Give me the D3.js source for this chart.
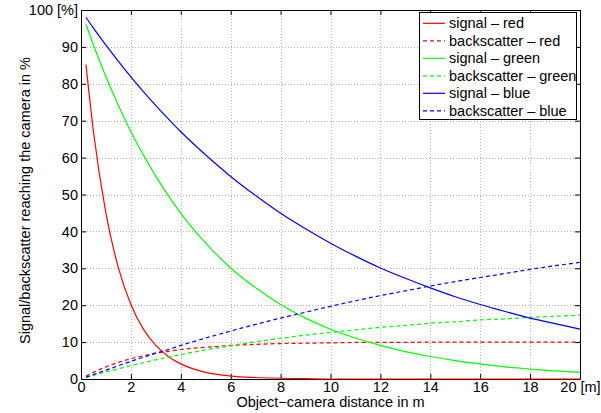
<!DOCTYPE html>
<html>
<head>
<meta charset="utf-8">
<script src="https://cdn.jsdelivr.net/npm/d3@7"></script>
<style>
  body { margin: 0; background: #fff; }
  svg { font-family: "Liberation Sans", Arial, sans-serif; }
</style>
</head>
<body>
<div id="chart"></div>
<script>
const distance = [0.2, 0.5, 1, 1.5, 2, 2.5, 3, 3.5, 4, 5, 6, 7, 8, 9, 10, 11, 12, 13, 14, 15, 16, 17, 18, 19, 20];

const signalRed = [85.2, 67.0, 44.9, 30.1, 20.2, 13.5, 9.1, 6.1, 4.1, 1.8, 0.8, 0.4, 0.2, 0.1, 0.0, 0.0, 0.0, 0.0, 0.0, 0.0, 0.0, 0.0, 0.0, 0.0, 0.0];
const backscatterRed = [0.8, 1.8, 3.3, 4.5, 5.5, 6.3, 7.0, 7.5, 8.0, 8.6, 9.1, 9.4, 9.6, 9.7, 9.8, 9.9, 9.9, 9.9, 10.0, 10.0, 10.0, 10.0, 10.0, 10.0, 10.0];
const signalGreen = [96.1, 90.5, 81.9, 74.1, 67.0, 60.7, 54.9, 49.7, 44.9, 36.8, 30.1, 24.7, 20.2, 16.5, 13.5, 11.1, 9.1, 7.4, 6.1, 5.0, 4.1, 3.3, 2.7, 2.2, 1.8];
const backscatterGreen = [0.4, 1.0, 1.9, 2.8, 3.6, 4.4, 5.2, 5.9, 6.6, 7.9, 9.0, 10.1, 11.0, 11.9, 12.6, 13.3, 14.0, 14.5, 15.1, 15.5, 16.0, 16.3, 16.7, 17.0, 17.3];
const signalBlue = [98.0, 95.1, 90.5, 86.1, 81.9, 77.9, 74.1, 70.5, 67.0, 60.7, 54.9, 49.7, 44.9, 40.7, 36.8, 33.3, 30.1, 27.3, 24.7, 22.3, 20.2, 18.3, 16.5, 15.0, 13.5];
const backscatterBlue = [0.5, 1.2, 2.4, 3.6, 4.8, 5.9, 7.0, 8.0, 9.1, 11.1, 13.0, 14.8, 16.5, 18.1, 19.7, 21.2, 22.6, 23.9, 25.2, 26.4, 27.5, 28.6, 29.7, 30.7, 31.6];

const xTicks = [0, 2, 4, 6, 8, 10, 12, 14, 16, 18, 20];
const yTicks = [0, 10, 20, 30, 40, 50, 60, 70, 80, 90, 100];

const series = [
  { name: 'signal \u2013 red', values: signalRed, color: '#ff0000', dash: null },
  { name: 'backscatter \u2013 red', values: backscatterRed, color: '#ff0000', dash: '4,3' },
  { name: 'signal \u2013 green', values: signalGreen, color: '#00ff00', dash: null },
  { name: 'backscatter \u2013 green', values: backscatterGreen, color: '#00ff00', dash: '4,3' },
  { name: 'signal \u2013 blue', values: signalBlue, color: '#0000ff', dash: null },
  { name: 'backscatter \u2013 blue', values: backscatterBlue, color: '#0000ff', dash: '4,3' }
];

const width = 601, height = 413;
const m = { left: 81, right: 580, top: 10, bottom: 379 };

const svg = d3.select('#chart').append('svg')
  .attr('width', width)
  .attr('height', height);

const x = d3.scaleLinear().domain([0, 20]).range([m.left, m.right]);
const y = d3.scaleLinear().domain([0, 100]).range([m.bottom, m.top]);

// grille pointillée
const grid = svg.append('g').attr('stroke', '#b4b4b4').attr('stroke-dasharray', '1,2').attr('stroke-width', 1);
grid.selectAll('.gx').data(xTicks.slice(1, -1)).enter().append('line')
  .attr('x1', d => Math.round(x(d)) + 0.5).attr('x2', d => Math.round(x(d)) + 0.5)
  .attr('y1', m.top).attr('y2', m.bottom);
grid.selectAll('.gy').data(yTicks.slice(1, -1)).enter().append('line')
  .attr('y1', d => Math.round(y(d)) + 0.5).attr('y2', d => Math.round(y(d)) + 0.5)
  .attr('x1', m.left).attr('x2', m.right);

// axes (ticks inward, all four sides)
const fmtX = d => d === 20 ? '20 [m]' : d;
const fmtY = d => d === 100 ? '100 [%]' : d;

const axB = svg.append('g').attr('transform', `translate(0,${m.bottom})`)
  .call(d3.axisBottom(x).tickValues(xTicks).tickFormat(fmtX).tickSizeInner(-5).tickSizeOuter(0).tickPadding(3));
const axT = svg.append('g').attr('transform', `translate(0,${m.top})`)
  .call(d3.axisTop(x).tickValues(xTicks).tickFormat('').tickSizeInner(-5).tickSizeOuter(0));
const axL = svg.append('g').attr('transform', `translate(${m.left},0)`)
  .call(d3.axisLeft(y).tickValues(yTicks).tickFormat(fmtY).tickSizeInner(-5).tickSizeOuter(0).tickPadding(3));
const axR = svg.append('g').attr('transform', `translate(${m.right},0)`)
  .call(d3.axisRight(y).tickValues(yTicks).tickFormat('').tickSizeInner(-5).tickSizeOuter(0));

[axB, axT, axL, axR].forEach(a => {
  a.selectAll('text').attr('fill', '#000').attr('font-size', 14.5)
    .attr('font-family', '"Liberation Sans", Arial, sans-serif');
  a.selectAll('line').attr('stroke', '#000');
  a.select('.domain').attr('stroke', '#000');
});

// courbes
const line = d3.line()
  .x((d, i) => x(distance[i]))
  .y(d => y(d))
  .curve(d3.curveMonotoneX);

svg.append('g').selectAll('path').data(series).enter().append('path')
  .attr('d', d => line(d.values))
  .attr('fill', 'none')
  .attr('stroke', d => d.color)
  .attr('stroke-width', 1.2)
  .attr('stroke-dasharray', d => d.dash);

// titres
svg.append('text')
  .attr('x', (m.left + m.right) / 2).attr('y', 407)
  .attr('text-anchor', 'middle').attr('font-size', 14.5)
  .text('Object\u2212camera distance in m');

svg.append('text')
  .attr('transform', `translate(30,${(m.top + m.bottom) / 2 + 6}) rotate(-90)`)
  .attr('text-anchor', 'middle').attr('font-size', 14.5)
  .text('Signal/backscatter reaching the camera in %');

// légende
const lg = svg.append('g');
lg.append('rect')
  .attr('x', 419.5).attr('y', 12.5).attr('width', 157).attr('height', 107)
  .attr('fill', '#fff').attr('stroke', '#000');
const rows = lg.selectAll('.row').data(series).enter().append('g')
  .attr('transform', (d, i) => `translate(0,${23.3 + i * 17.5})`);
rows.append('line')
  .attr('x1', 423).attr('x2', 445).attr('y1', 0).attr('y2', 0)
  .attr('stroke', d => d.color).attr('stroke-width', 1.2)
  .attr('stroke-dasharray', d => d.dash);
rows.append('text')
  .attr('x', 449).attr('y', 5).attr('font-size', 14.5)
  .text(d => d.name);
</script>
</body>
</html>
